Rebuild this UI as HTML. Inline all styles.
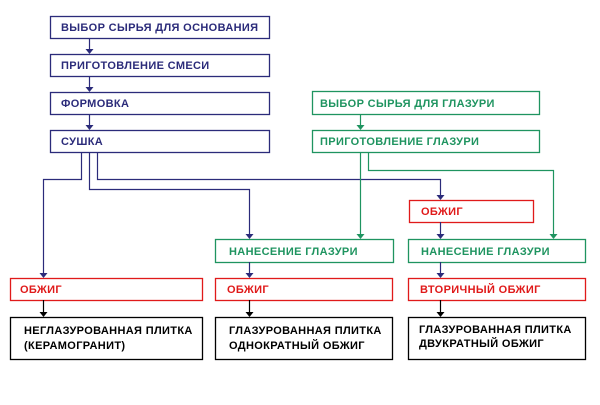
<!DOCTYPE html>
<html><head><meta charset="utf-8"><style>
body{margin:0;background:#fff}
svg text{font-family:"Liberation Sans",Arial,sans-serif;font-weight:bold;font-size:11px;letter-spacing:0.35px}
</style></head><body>
<svg width="600" height="400" xmlns="http://www.w3.org/2000/svg">
<g fill="#fff" stroke-width="1.3">
<rect x="50.5" y="16.5" width="219" height="22" stroke="#2b2b7a"/>
<rect x="50.5" y="54.5" width="219" height="22" stroke="#2b2b7a"/>
<rect x="50.5" y="92.5" width="219" height="22" stroke="#2b2b7a"/>
<rect x="50.5" y="130.5" width="219" height="22" stroke="#2b2b7a"/>
<rect x="312.5" y="91.5" width="227" height="23" stroke="#1f9460"/>
<rect x="312.5" y="130.5" width="227" height="22" stroke="#1f9460"/>
<rect x="409.5" y="200.5" width="124" height="22" stroke="#e01a1a"/>
<rect x="215.5" y="239.5" width="178" height="23" stroke="#1f9460"/>
<rect x="408.5" y="239.5" width="177" height="23" stroke="#1f9460"/>
<rect x="10.5" y="278.5" width="192" height="22" stroke="#e01a1a"/>
<rect x="215.5" y="278.5" width="177" height="22" stroke="#e01a1a"/>
<rect x="408.5" y="278.5" width="177" height="22" stroke="#e01a1a"/>
<rect x="10.5" y="317.5" width="192" height="42" stroke="#000"/>
<rect x="215.5" y="317.5" width="177" height="42" stroke="#000"/>
<rect x="408.5" y="317.5" width="177" height="42" stroke="#000"/>
</g>
<g fill="none" stroke="#2b2b7a" stroke-width="1.2">
<path d="M89.5 38V50M89.5 76V88M89.5 114V126"/>
<path d="M81.5 152V179.5H43.5V274"/>
<path d="M89.5 152V189.5H249.5V235"/>
<path d="M97.5 152V179.5H440.5V196"/>
<path d="M440.5 222V235M440.5 262V274M249.5 262V274"/>
</g>
<g fill="none" stroke="#1f9460" stroke-width="1.2">
<path d="M360.5 114V126M360.5 152V235M368.5 152V170.5H553.5V235"/>
</g>
<g stroke="#000" stroke-width="1.2"><path d="M43.5 300V313M249.5 300V313M440.5 300V313"/></g>
<g fill="#2b2b7a">
<path d="M85.5 49h8l-4 5zM85.5 87h8l-4 5zM85.5 125h8l-4 5zM39.5 273h8l-4 5zM245.5 234h8l-4 5zM436.5 195h8l-4 5zM436.5 234h8l-4 5zM436.5 273h8l-4 5zM245.5 273h8l-4 5z"/>
</g>
<g fill="#1f9460"><path d="M356.5 125h8l-4 5zM356.5 234h8l-4 5zM549.5 234h8l-4 5z"/></g>
<g fill="#000"><path d="M39.5 312h8l-4 5zM245.5 312h8l-4 5zM436.5 312h8l-4 5z"/></g>
<g fill="#2b2b7a">
<text x="61" y="31">ВЫБОР СЫРЬЯ ДЛЯ ОСНОВАНИЯ</text>
<text x="61" y="69">ПРИГОТОВЛЕНИЕ СМЕСИ</text>
<text x="61" y="107">ФОРМОВКА</text>
<text x="61" y="145">СУШКА</text>
</g>
<g fill="#1f9460">
<text x="320" y="107">ВЫБОР СЫРЬЯ ДЛЯ ГЛАЗУРИ</text>
<text x="320" y="145">ПРИГОТОВЛЕНИЕ ГЛАЗУРИ</text>
<text x="229" y="255">НАНЕСЕНИЕ ГЛАЗУРИ</text>
<text x="421" y="255">НАНЕСЕНИЕ ГЛАЗУРИ</text>
</g>
<g fill="#e01a1a">
<text x="421" y="215">ОБЖИГ</text>
<text x="20" y="293">ОБЖИГ</text>
<text x="227" y="293">ОБЖИГ</text>
<text x="420" y="293">ВТОРИЧНЫЙ ОБЖИГ</text>
</g>
<g fill="#000">
<text x="24" y="334">НЕГЛАЗУРОВАННАЯ ПЛИТКА</text>
<text x="24" y="349">(КЕРАМОГРАНИТ)</text>
<text x="229" y="334">ГЛАЗУРОВАННАЯ ПЛИТКА</text>
<text x="229" y="349">ОДНОКРАТНЫЙ ОБЖИГ</text>
<text x="419" y="333">ГЛАЗУРОВАННАЯ ПЛИТКА</text>
<text x="419" y="347">ДВУКРАТНЫЙ ОБЖИГ</text>
</g>
</svg>
</body></html>
